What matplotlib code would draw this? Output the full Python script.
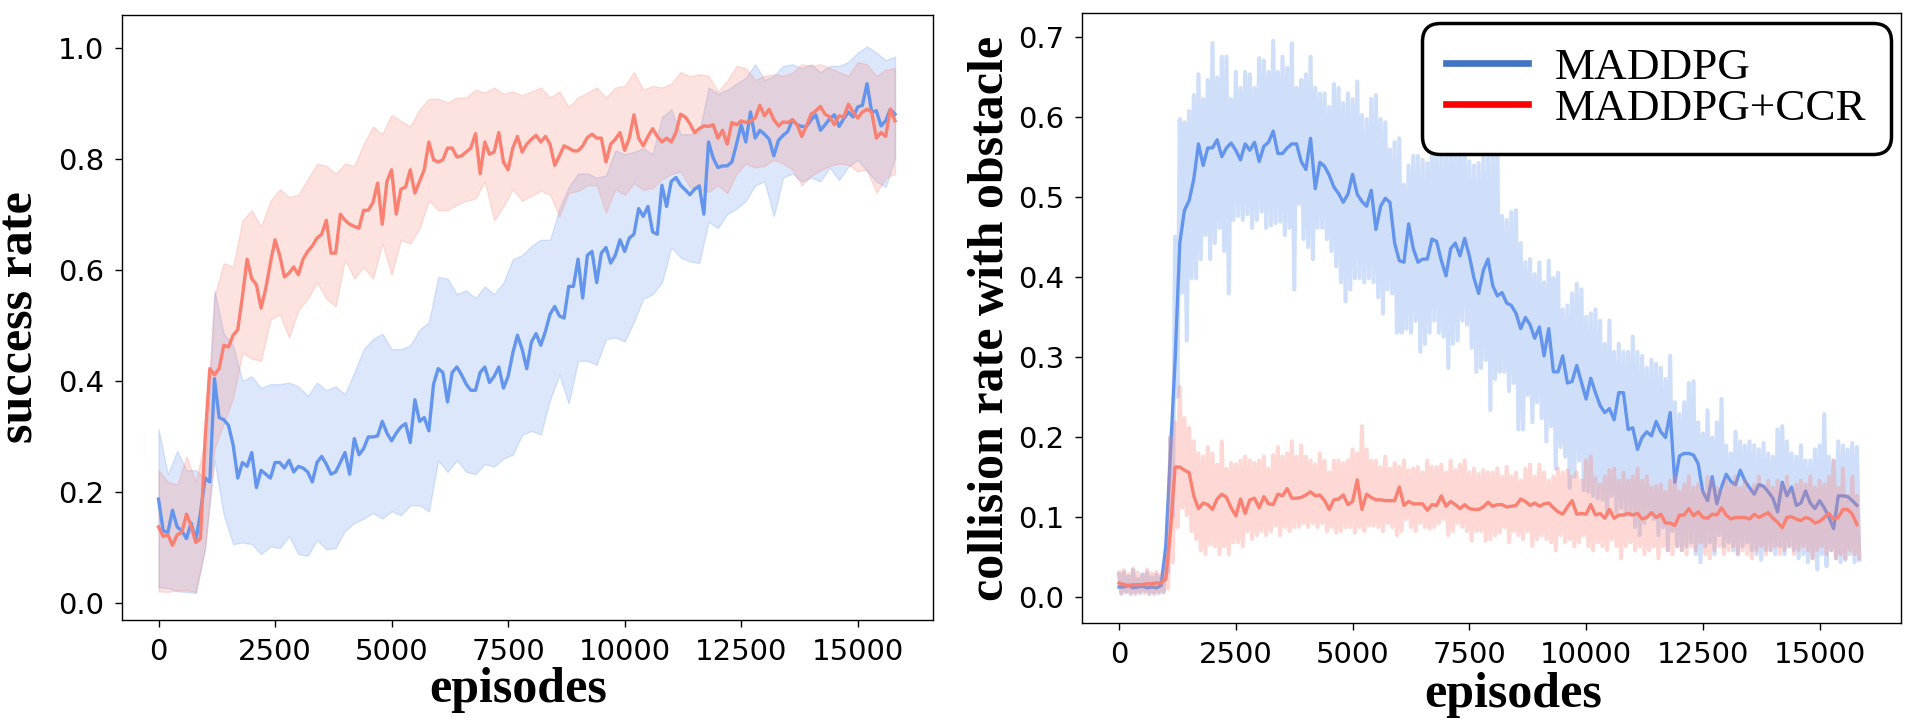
import numpy as np
import matplotlib
matplotlib.use("Agg")
import matplotlib.pyplot as plt
from matplotlib.lines import Line2D

# ---------------- data ----------------
episodes = np.arange(0, 15801, 100)       # smoothed curves, every 100 episodes
band_episodes = np.arange(0, 15801, 200)  # std bands of the left panel

# left panel: success rate
succ_maddpg = [
    0.187, 0.13, 0.127, 0.167, 0.137, 0.13, 0.116, 0.144, 0.113, 0.162,
    0.225, 0.218, 0.404, 0.334, 0.33, 0.32, 0.285, 0.225, 0.253, 0.246,
    0.271, 0.208, 0.239, 0.232, 0.225, 0.253, 0.253, 0.243, 0.257, 0.236,
    0.246, 0.243, 0.236, 0.218, 0.253, 0.264, 0.25, 0.232, 0.236, 0.253,
    0.271, 0.232, 0.296, 0.267, 0.278, 0.299, 0.299, 0.301, 0.327, 0.306,
    0.292, 0.306, 0.317, 0.323, 0.289, 0.366, 0.327, 0.334, 0.31, 0.394,
    0.422, 0.415, 0.362, 0.415, 0.425, 0.411, 0.394, 0.383, 0.383, 0.415,
    0.425, 0.397, 0.408, 0.425, 0.387, 0.408, 0.45, 0.482, 0.457, 0.422,
    0.47, 0.485, 0.464, 0.489, 0.52, 0.534, 0.517, 0.513, 0.57, 0.57,
    0.619, 0.549, 0.626, 0.633, 0.577, 0.63, 0.64, 0.612, 0.626, 0.654,
    0.633, 0.657, 0.664, 0.71, 0.696, 0.714, 0.668, 0.664, 0.752, 0.714,
    0.759, 0.766, 0.752, 0.744, 0.735, 0.745, 0.751, 0.70, 0.83, 0.801,
    0.784, 0.787, 0.787, 0.794, 0.826, 0.861, 0.83, 0.884, 0.837, 0.851,
    0.844, 0.835, 0.805, 0.833, 0.842, 0.849, 0.87, 0.861, 0.858, 0.858,
    0.87, 0.879, 0.851, 0.861, 0.872, 0.879, 0.858, 0.872, 0.884, 0.875,
    0.893, 0.896, 0.935, 0.884, 0.886, 0.859, 0.868, 0.889, 0.88,
]
succ_ccr = [
    0.137, 0.12, 0.123, 0.104, 0.123, 0.127, 0.16, 0.139, 0.109, 0.116,
    0.296, 0.422, 0.411, 0.422, 0.464, 0.461, 0.482, 0.492, 0.552, 0.619,
    0.584, 0.573, 0.531, 0.566, 0.612, 0.654, 0.626, 0.587, 0.594, 0.605,
    0.591, 0.619, 0.633, 0.643, 0.657, 0.664, 0.689, 0.63, 0.63, 0.70,
    0.689, 0.682, 0.678, 0.675, 0.707, 0.707, 0.721, 0.756, 0.682, 0.759,
    0.78, 0.70, 0.745, 0.749, 0.78, 0.738, 0.759, 0.78, 0.83, 0.798,
    0.794, 0.798, 0.819, 0.819, 0.803, 0.805, 0.812, 0.819, 0.845, 0.773,
    0.83, 0.808, 0.812, 0.847, 0.794, 0.78, 0.819, 0.84, 0.812, 0.826,
    0.835, 0.842, 0.830, 0.84, 0.826, 0.788, 0.805, 0.823, 0.819, 0.814,
    0.814, 0.823, 0.838, 0.844, 0.837, 0.837, 0.794, 0.826, 0.835, 0.847,
    0.815, 0.837, 0.879, 0.837, 0.823, 0.84, 0.854, 0.84, 0.83, 0.837,
    0.83, 0.847, 0.88, 0.875, 0.863, 0.847, 0.854, 0.859, 0.858, 0.861,
    0.837, 0.851, 0.826, 0.865, 0.861, 0.868, 0.865, 0.868, 0.873, 0.896,
    0.877, 0.889, 0.87, 0.859, 0.866, 0.865, 0.87, 0.861, 0.84, 0.859,
    0.88, 0.886, 0.894, 0.88, 0.875, 0.861, 0.877, 0.875, 0.898, 0.884,
    0.873, 0.884, 0.889, 0.884, 0.837, 0.847, 0.84, 0.889, 0.868,
]
succ_maddpg_hi = [
    0.313, 0.232, 0.274, 0.239, 0.239, 0.225, 0.563, 0.485, 0.464, 0.40,
    0.408, 0.387, 0.394, 0.394, 0.397, 0.39, 0.373, 0.397, 0.383, 0.39,
    0.376, 0.415, 0.457, 0.475, 0.485, 0.457, 0.457, 0.464, 0.492, 0.506,
    0.587, 0.584, 0.556, 0.563, 0.549, 0.57, 0.556, 0.577, 0.619, 0.626,
    0.643, 0.654, 0.654, 0.71, 0.749, 0.773, 0.773, 0.766, 0.77, 0.815,
    0.808, 0.812, 0.819, 0.808, 0.875, 0.889, 0.844, 0.844, 0.847, 0.928,
    0.917, 0.924, 0.935, 0.946, 0.97, 0.942, 0.949, 0.967, 0.97, 0.963,
    0.97, 0.956, 0.967, 0.967, 0.974, 0.991, 1.002, 0.991, 0.977, 0.984,
]
succ_maddpg_lo = [
    0.028, 0.027, 0.021, 0.02, 0.018, 0.099, 0.257, 0.158, 0.106, 0.109,
    0.106, 0.088, 0.102, 0.099, 0.12, 0.088, 0.085, 0.113, 0.097, 0.099,
    0.13, 0.144, 0.152, 0.162, 0.152, 0.165, 0.158, 0.176, 0.176, 0.165,
    0.257, 0.236, 0.257, 0.236, 0.232, 0.25, 0.246, 0.26, 0.267, 0.303,
    0.31, 0.303, 0.366, 0.411, 0.359, 0.436, 0.436, 0.429, 0.475, 0.478,
    0.471, 0.506, 0.548, 0.556, 0.577, 0.64, 0.622, 0.615, 0.612, 0.686,
    0.675, 0.70, 0.71, 0.724, 0.752, 0.759, 0.696, 0.766, 0.773, 0.759,
    0.766, 0.759, 0.784, 0.761, 0.786, 0.798, 0.777, 0.759, 0.749, 0.801,
]
succ_ccr_hi = [
    0.239, 0.218, 0.213, 0.264, 0.218, 0.296, 0.552, 0.612, 0.605, 0.689,
    0.707, 0.678, 0.724, 0.745, 0.731, 0.735, 0.763, 0.791, 0.787, 0.773,
    0.791, 0.787, 0.826, 0.858, 0.844, 0.879, 0.868, 0.858, 0.889, 0.908,
    0.908, 0.901, 0.91, 0.91, 0.924, 0.919, 0.928, 0.917, 0.921, 0.914,
    0.921, 0.928, 0.91, 0.921, 0.893, 0.91, 0.919, 0.928, 0.91, 0.928,
    0.931, 0.956, 0.924, 0.931, 0.928, 0.935, 0.956, 0.948, 0.952, 0.949,
    0.921, 0.94, 0.967, 0.963, 0.942, 0.949, 0.952, 0.949, 0.955, 0.97,
    0.967, 0.97, 0.963, 0.956, 0.949, 0.974, 0.97, 0.949, 0.96, 0.963,
]
succ_ccr_lo = [
    0.021, 0.02, 0.023, 0.023, 0.02, 0.099, 0.278, 0.324, 0.369, 0.45,
    0.44, 0.436, 0.51, 0.52, 0.478, 0.527, 0.548, 0.577, 0.548, 0.534,
    0.619, 0.584, 0.605, 0.584, 0.647, 0.591, 0.654, 0.647, 0.675, 0.724,
    0.707, 0.707, 0.717, 0.724, 0.728, 0.759, 0.689, 0.714, 0.745, 0.724,
    0.733, 0.742, 0.735, 0.696, 0.738, 0.742, 0.752, 0.752, 0.703, 0.745,
    0.735, 0.756, 0.744, 0.747, 0.763, 0.772, 0.777, 0.749, 0.745, 0.74,
    0.752, 0.738, 0.773, 0.791, 0.784, 0.787, 0.798, 0.791, 0.78, 0.752,
    0.769, 0.779, 0.787, 0.791, 0.789, 0.777, 0.78, 0.738, 0.765, 0.773,
]

# right panel: collision rate with obstacle (smoothed + raw high/low tips)
coll_maddpg = [
    0.012, 0.012, 0.014, 0.011, 0.012, 0.013, 0.011, 0.012, 0.011, 0.014,
    0.063, 0.179, 0.296, 0.442, 0.483, 0.495, 0.522, 0.566, 0.539, 0.561,
    0.561, 0.571, 0.55, 0.561, 0.567, 0.558, 0.546, 0.566, 0.558, 0.568,
    0.544, 0.563, 0.568, 0.582, 0.554, 0.554, 0.561, 0.566, 0.566, 0.544,
    0.534, 0.573, 0.51, 0.543, 0.538, 0.527, 0.512, 0.504, 0.493, 0.503,
    0.528, 0.503, 0.494, 0.488, 0.508, 0.459, 0.488, 0.498, 0.493, 0.442,
    0.42, 0.418, 0.466, 0.435, 0.418, 0.422, 0.422, 0.447, 0.444, 0.42,
    0.401, 0.435, 0.442, 0.426, 0.448, 0.426, 0.398, 0.379, 0.408, 0.422,
    0.389, 0.376, 0.38, 0.367, 0.364, 0.354, 0.335, 0.349, 0.34, 0.323,
    0.337, 0.301, 0.335, 0.281, 0.281, 0.301, 0.267, 0.269, 0.289, 0.268,
    0.247, 0.273, 0.255, 0.239, 0.23, 0.235, 0.221, 0.255, 0.255, 0.209,
    0.211, 0.184, 0.199, 0.206, 0.201, 0.219, 0.206, 0.199, 0.23, 0.143,
    0.176, 0.179, 0.179, 0.177, 0.166, 0.131, 0.12, 0.15, 0.116, 0.137,
    0.153, 0.144, 0.14, 0.158, 0.145, 0.136, 0.128, 0.14, 0.138, 0.131,
    0.123, 0.106, 0.143, 0.126, 0.137, 0.114, 0.117, 0.132, 0.117, 0.11,
    0.12, 0.111, 0.099, 0.085, 0.126, 0.126, 0.125, 0.12, 0.114,
]
coll_ccr = [
    0.017, 0.015, 0.014, 0.015, 0.015, 0.015, 0.016, 0.016, 0.017, 0.017,
    0.022, 0.082, 0.162, 0.162, 0.158, 0.155, 0.126, 0.11, 0.117, 0.115,
    0.109, 0.122, 0.128, 0.124, 0.111, 0.101, 0.122, 0.104, 0.121, 0.123,
    0.111, 0.125, 0.116, 0.115, 0.128, 0.126, 0.135, 0.123, 0.123, 0.124,
    0.127, 0.131, 0.126, 0.127, 0.12, 0.109, 0.121, 0.122, 0.127, 0.115,
    0.119, 0.146, 0.109, 0.128, 0.124, 0.121, 0.121, 0.12, 0.12, 0.12,
    0.137, 0.114, 0.119, 0.116, 0.116, 0.116, 0.108, 0.115, 0.114, 0.126,
    0.113, 0.119, 0.115, 0.11, 0.115, 0.11, 0.109, 0.109, 0.112, 0.118,
    0.113, 0.115, 0.115, 0.112, 0.113, 0.114, 0.122, 0.119, 0.114, 0.117,
    0.113, 0.116, 0.117, 0.111, 0.106, 0.103, 0.112, 0.12, 0.103, 0.104,
    0.103, 0.115, 0.102, 0.104, 0.098, 0.109, 0.098, 0.102, 0.102, 0.104,
    0.102, 0.104, 0.097, 0.099, 0.105, 0.099, 0.103, 0.092, 0.092, 0.089,
    0.102, 0.102, 0.11, 0.101, 0.106, 0.099, 0.098, 0.103, 0.102, 0.111,
    0.102, 0.097, 0.099, 0.099, 0.099, 0.097, 0.103, 0.099, 0.102, 0.105,
    0.098, 0.093, 0.086, 0.099, 0.1, 0.097, 0.095, 0.099, 0.097, 0.092,
    0.094, 0.099, 0.104, 0.097, 0.099, 0.109, 0.109, 0.103, 0.09,
]
coll_maddpg_raw_hi = [
    0.028, 0.03, 0.025, 0.033, 0.022, 0.028, 0.03, 0.024, 0.027, 0.025,
    0.05, 0.2, 0.45, 0.597, 0.593, 0.607, 0.627, 0.653, 0.622, 0.646,
    0.692, 0.649, 0.675, 0.675, 0.622, 0.656, 0.636, 0.656, 0.653, 0.636,
    0.673, 0.67, 0.656, 0.695, 0.656, 0.675, 0.661, 0.692, 0.636, 0.646,
    0.653, 0.675, 0.636, 0.629, 0.629, 0.612, 0.641, 0.636, 0.617, 0.629,
    0.622, 0.644, 0.602, 0.597, 0.622, 0.627, 0.597, 0.593, 0.559, 0.568,
    0.573, 0.515, 0.539, 0.551, 0.551, 0.546, 0.542, 0.573, 0.568, 0.549,
    0.566, 0.571, 0.563, 0.566, 0.556, 0.544, 0.539, 0.542, 0.549, 0.549,
    0.568, 0.559, 0.476, 0.471, 0.481, 0.483, 0.442, 0.418, 0.422, 0.403,
    0.418, 0.393, 0.42, 0.398, 0.405, 0.359, 0.364, 0.379, 0.391, 0.384,
    0.35, 0.354, 0.359, 0.345, 0.316, 0.345, 0.306, 0.316, 0.306, 0.306,
    0.325, 0.306, 0.301, 0.286, 0.296, 0.291, 0.286, 0.272, 0.301, 0.243,
    0.228, 0.243, 0.267, 0.269, 0.218, 0.204, 0.233, 0.199, 0.218, 0.247,
    0.189, 0.179, 0.206, 0.194, 0.189, 0.194, 0.189, 0.184, 0.192, 0.179,
    0.175, 0.209, 0.213, 0.194, 0.179, 0.175, 0.189, 0.17, 0.17, 0.184,
    0.189, 0.228, 0.175, 0.17, 0.194, 0.189, 0.184, 0.192, 0.187,
]
coll_maddpg_raw_lo = [
    0.004, 0.006, 0.003, 0.005, 0.004, 0.007, 0.003, 0.005, 0.004, 0.006,
    0.03, 0.1, 0.25, 0.38, 0.32, 0.398, 0.398, 0.422, 0.452, 0.422,
    0.442, 0.461, 0.432, 0.379, 0.471, 0.476, 0.471, 0.478, 0.461, 0.471,
    0.481, 0.461, 0.464, 0.467, 0.469, 0.452, 0.461, 0.384, 0.491, 0.447,
    0.437, 0.422, 0.461, 0.461, 0.447, 0.432, 0.413, 0.393, 0.369, 0.384,
    0.398, 0.398, 0.393, 0.398, 0.393, 0.374, 0.354, 0.384, 0.379, 0.33,
    0.33, 0.335, 0.33, 0.345, 0.306, 0.316, 0.33, 0.345, 0.33, 0.325,
    0.286, 0.316, 0.32, 0.345, 0.34, 0.311, 0.281, 0.286, 0.296, 0.233,
    0.272, 0.281, 0.281, 0.257, 0.267, 0.209, 0.209, 0.252, 0.218, 0.243,
    0.223, 0.194, 0.213, 0.16, 0.187, 0.175, 0.136, 0.15, 0.17, 0.133,
    0.131, 0.126, 0.123, 0.121, 0.102, 0.126, 0.106, 0.111, 0.102, 0.102,
    0.087, 0.077, 0.092, 0.102, 0.097, 0.077, 0.087, 0.058, 0.082, 0.063,
    0.058, 0.063, 0.068, 0.053, 0.043, 0.063, 0.068, 0.053, 0.077, 0.063,
    0.068, 0.058, 0.053, 0.063, 0.068, 0.058, 0.053, 0.046, 0.058, 0.058,
    0.053, 0.063, 0.053, 0.063, 0.058, 0.048, 0.053, 0.043, 0.048, 0.034,
    0.053, 0.038, 0.058, 0.048, 0.043, 0.046, 0.053, 0.043, 0.046,
]
coll_ccr_raw_hi = [
    0.03, 0.033, 0.028, 0.035, 0.03, 0.027, 0.034, 0.029, 0.031, 0.028,
    0.04, 0.199, 0.218, 0.262, 0.223, 0.211, 0.194, 0.179, 0.175, 0.187,
    0.179, 0.165, 0.194, 0.16, 0.167, 0.165, 0.17, 0.175, 0.17, 0.167,
    0.17, 0.175, 0.16, 0.177, 0.187, 0.175, 0.179, 0.194, 0.175, 0.189,
    0.175, 0.17, 0.165, 0.179, 0.17, 0.155, 0.17, 0.17, 0.167, 0.17,
    0.184, 0.179, 0.213, 0.184, 0.17, 0.17, 0.162, 0.175, 0.16, 0.167,
    0.162, 0.17, 0.158, 0.16, 0.162, 0.155, 0.17, 0.162, 0.162, 0.165,
    0.155, 0.17, 0.158, 0.165, 0.17, 0.155, 0.16, 0.153, 0.158, 0.155,
    0.155, 0.16, 0.15, 0.162, 0.15, 0.155, 0.145, 0.16, 0.165, 0.15,
    0.165, 0.155, 0.145, 0.15, 0.16, 0.155, 0.158, 0.15, 0.155, 0.145,
    0.17, 0.175, 0.148, 0.14, 0.15, 0.158, 0.16, 0.145, 0.155, 0.145,
    0.15, 0.16, 0.145, 0.15, 0.136, 0.138, 0.14, 0.131, 0.145, 0.15,
    0.131, 0.14, 0.15, 0.136, 0.14, 0.131, 0.15, 0.145, 0.136, 0.131,
    0.145, 0.14, 0.15, 0.136, 0.145, 0.131, 0.14, 0.15, 0.136, 0.145,
    0.136, 0.145, 0.14, 0.15, 0.131, 0.14, 0.145, 0.14, 0.15, 0.136,
    0.145, 0.14, 0.15, 0.17, 0.136, 0.16, 0.126, 0.15, 0.126,
]
coll_ccr_raw_lo = [
    0.004, 0.006, 0.005, 0.003, 0.006, 0.004, 0.005, 0.003, 0.006, 0.005,
    0.01, 0.043, 0.087, 0.111, 0.102, 0.082, 0.072, 0.058, 0.053, 0.065,
    0.063, 0.053, 0.063, 0.053, 0.068, 0.068, 0.063, 0.082, 0.072, 0.077,
    0.082, 0.077, 0.082, 0.089, 0.077, 0.087, 0.082, 0.087, 0.087, 0.092,
    0.087, 0.092, 0.087, 0.092, 0.082, 0.087, 0.08, 0.082, 0.087, 0.087,
    0.08, 0.087, 0.082, 0.089, 0.089, 0.087, 0.082, 0.092, 0.087, 0.077,
    0.082, 0.097, 0.087, 0.082, 0.092, 0.087, 0.085, 0.087, 0.092, 0.097,
    0.077, 0.082, 0.092, 0.087, 0.082, 0.07, 0.082, 0.082, 0.07, 0.072,
    0.077, 0.08, 0.087, 0.068, 0.082, 0.077, 0.072, 0.082, 0.063, 0.072,
    0.077, 0.072, 0.068, 0.058, 0.077, 0.068, 0.072, 0.063, 0.068, 0.077,
    0.063, 0.058, 0.068, 0.063, 0.058, 0.072, 0.063, 0.048, 0.063, 0.068,
    0.058, 0.063, 0.053, 0.058, 0.063, 0.048, 0.063, 0.058, 0.053, 0.063,
    0.058, 0.053, 0.063, 0.058, 0.068, 0.053, 0.048, 0.058, 0.063, 0.053,
    0.058, 0.063, 0.053, 0.058, 0.053, 0.048, 0.058, 0.063, 0.053, 0.058,
    0.063, 0.053, 0.058, 0.063, 0.053, 0.058, 0.063, 0.058, 0.048, 0.058,
    0.063, 0.053, 0.058, 0.048, 0.053, 0.048, 0.058, 0.053, 0.048,
]

labels = ['MADDPG', 'MADDPG+CCR']
xticks = [0, 2500, 5000, 7500, 10000, 12500, 15000]

# ---------------- styling ----------------
blue = '#6495ED'
red = '#FA8072'
serif = 'Liberation Serif'


def zigzag(xs, hi, lo):
    # raw episode data alternates between its high and low tips
    x = np.empty(2 * len(xs))
    y = np.empty(2 * len(xs))
    x[0::2] = xs
    x[1::2] = np.asarray(xs) + 50
    y[0::2] = hi
    y[1::2] = lo
    return x, y


fig = plt.figure(figsize=(19.06, 7.24), dpi=100)
ax1 = fig.add_axes([0.0640, 0.1436, 0.4255, 0.8356])
ax2 = fig.add_axes([0.5677, 0.1395, 0.4297, 0.8425])

# left: success rate
ax1.fill_between(band_episodes, succ_maddpg_lo, succ_maddpg_hi, color=blue, alpha=0.22, lw=1)
ax1.plot(episodes, succ_maddpg, color=blue, lw=2.4)
ax1.fill_between(band_episodes, succ_ccr_lo, succ_ccr_hi, color=red, alpha=0.22, lw=1)
ax1.plot(episodes, succ_ccr, color=red, lw=2.4)
ax1.set_xlim(-784, 16615)
ax1.set_ylim(-0.0306, 1.0585)
ax1.set_yticks([0.0, 0.2, 0.4, 0.6, 0.8, 1.0])
ax1.set_ylabel('success rate', fontfamily=serif, fontweight='bold', fontsize=36)
ax1.yaxis.set_label_coords(-0.0962, 0.5)
ax1.set_xlabel('episodes', fontfamily=serif, fontweight='bold', fontsize=36)
ax1.xaxis.set_label_coords(0.488, -0.078)

# right: collision rate
bx, by = zigzag(episodes, coll_maddpg_raw_hi, coll_maddpg_raw_lo)
ax2.plot(bx, by, color=blue, alpha=0.3, lw=3.0)
ax2.plot(episodes, coll_maddpg, color=blue, lw=2.4)
rx, ry = zigzag(episodes, coll_ccr_raw_hi, coll_ccr_raw_lo)
ax2.plot(rx, ry, color=red, alpha=0.3, lw=3.0)
ax2.plot(episodes, coll_ccr, color=red, lw=2.4)
ax2.set_xlim(-793, 16744)
ax2.set_ylim(-0.033, 0.7296)
ax2.set_yticks([0.0, 0.1, 0.2, 0.3, 0.4, 0.5, 0.6, 0.7])
ax2.set_ylabel('collision rate with obstacle', fontfamily=serif, fontweight='bold', fontsize=36)
ax2.yaxis.set_label_coords(-0.083, 0.5)
ax2.set_xlabel('episodes', fontfamily=serif, fontweight='bold', fontsize=36)
ax2.xaxis.set_label_coords(0.526, -0.080)

handles = [Line2D([], [], color='#4472C4', lw=4.8),
           Line2D([], [], color='#FF0000', lw=4.8)]
leg = ax2.legend(handles, labels, loc='upper right', bbox_to_anchor=(0.988, 0.984),
                 borderaxespad=0, prop={'family': serif, 'size': 32.5},
                 handlelength=1.8, handletextpad=0.6, borderpad=0.55,
                 labelspacing=0.0, fancybox=True, framealpha=1)
frame = leg.get_frame()
frame.set_edgecolor('black')
frame.set_linewidth(2.5)
frame.set_boxstyle('round,pad=0,rounding_size=0.4')

for ax in (ax1, ax2):
    ax.set_xticks(xticks)
    ax.tick_params(labelsize=21, length=5.3, width=1.0, pad=7.5)
    for s in ax.spines.values():
        s.set_linewidth(1.0)

fig.savefig('out.png', dpi=100)
